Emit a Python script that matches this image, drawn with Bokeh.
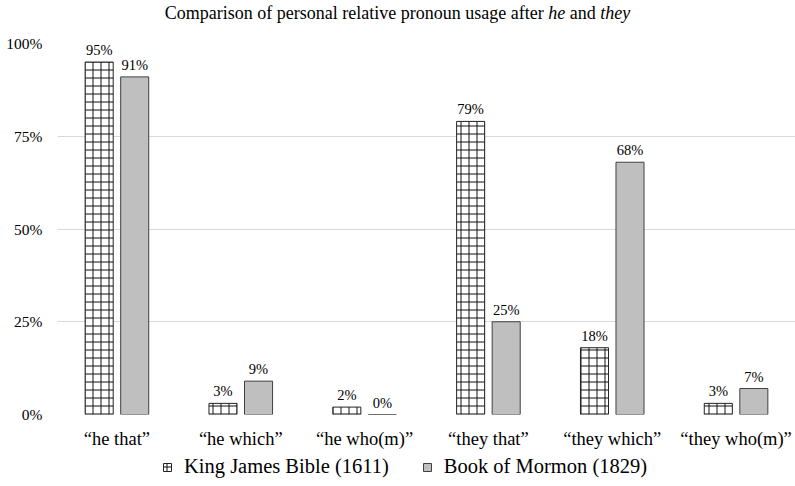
from bokeh.plotting import figure
from bokeh.layouts import column
from bokeh.models import (ColumnDataSource, FactorRange, Range1d, FixedTicker,
                          Legend, LegendItem, CustomJSTickFormatter, Div)
from bokeh.transform import dodge
from bokeh.core.properties import value
from bokeh.embed import file_html
from bokeh.resources import INLINE

# Relative pronoun constructions and the share of each (percent)
categories = ["\u201che that\u201d", "\u201che which\u201d", "\u201che who(m)\u201d",
              "\u201cthey that\u201d", "\u201cthey which\u201d", "\u201cthey who(m)\u201d"]
kjb_pct = [95, 3, 2, 79, 18, 3]
bom_pct = [91, 9, 0, 25, 68, 7]
series_names = ["King James Bible (1611)", "Book of Mormon (1829)"]
y_ticks = [0, 25, 50, 75, 100]

FONT = "Liberation Serif"
W = 795

KJB_STYLE = dict(fill_color="white", line_color="#222222", line_width=1,
                 hatch_pattern="cross", hatch_color="#111111", hatch_scale=8, hatch_weight=1)
BOM_STYLE = dict(fill_color="#bfbfbf", line_color="#404040", line_width=1)

source = ColumnDataSource(dict(
    cat=categories,
    kjb=kjb_pct,
    bom=bom_pct,
    kjb_txt=[f"{v}%" for v in kjb_pct],
    bom_txt=[f"{v}%" for v in bom_pct],
))

# Title with the two pronouns set in italics
title = Div(
    text="Comparison of personal relative pronoun usage after <i>he</i> and <i>they</i>",
    width=W, height=33, margin=0,
    styles={"font-family": FONT, "font-size": "18px", "color": "#000000",
            "text-align": "center", "width": f"{W}px", "line-height": "26px",
            "white-space": "nowrap"},
)

p = figure(
    width=W, height=418,
    x_range=FactorRange(factors=categories, range_padding=-0.02, range_padding_units="absolute"),
    y_range=Range1d(0, 100),
    output_backend="svg", toolbar_location=None,
    min_border_left=57, min_border_right=0, min_border_top=10, min_border_bottom=37,
)

BAR_W = 0.2265
OFF = 0.1435

p.vbar(x=dodge("cat", -OFF, range=p.x_range), top="kjb", width=BAR_W, source=source, **KJB_STYLE)
p.vbar(x=dodge("cat", OFF, range=p.x_range), top="bom", width=BAR_W, source=source, **BOM_STYLE)

# Value labels above each bar
for col, txt, off in (("kjb", "kjb_txt", -OFF), ("bom", "bom_txt", OFF)):
    p.text(x=dodge("cat", off, range=p.x_range), y=col, text=txt, source=source,
           text_font=value(FONT), text_font_size="14.5px", text_color="#000000",
           text_align="center", text_baseline="alphabetic", y_offset=-12)

# Axes
p.xaxis.axis_line_color = None
p.xaxis.major_tick_line_color = None
p.xaxis.minor_tick_line_color = None
p.xaxis.major_tick_out = 0
p.xaxis.major_tick_in = 0
p.xaxis.major_label_text_font = FONT
p.xaxis.major_label_text_font_size = "18.5px"
p.xaxis.major_label_text_color = "#000000"
p.xaxis.major_label_standoff = 14

p.yaxis.ticker = FixedTicker(ticks=y_ticks)
p.yaxis.formatter = CustomJSTickFormatter(code="return tick + '%';")
p.yaxis.axis_line_color = None
p.yaxis.major_tick_line_color = None
p.yaxis.minor_tick_line_color = None
p.yaxis.major_tick_out = 0
p.yaxis.major_tick_in = 0
p.yaxis.major_label_text_font = FONT
p.yaxis.major_label_text_font_size = "15.5px"
p.yaxis.major_label_text_color = "#000000"
p.yaxis.major_label_standoff = 15

p.xgrid.grid_line_color = None
p.ygrid.ticker = FixedTicker(ticks=y_ticks)
p.ygrid.grid_line_color = "#d9d9d9"
p.ygrid.grid_line_width = 1
p.outline_line_color = None

# Series key in its own strip under the chart; its swatches sit outside the strip's range
k = figure(width=W, height=35, x_range=Range1d(0, 1), y_range=Range1d(0, 1),
           output_backend="svg", toolbar_location=None,
           min_border_left=0, min_border_right=0, min_border_top=0, min_border_bottom=0)
k.axis.visible = False
k.grid.visible = False
k.outline_line_color = None
kjb_key = k.vbar(x=[5], top=[1], width=0.1, **KJB_STYLE)
bom_key = k.vbar(x=[5], top=[1], width=0.1, **BOM_STYLE)

legend = Legend(
    items=[LegendItem(label=series_names[0], renderers=[kjb_key]),
           LegendItem(label=series_names[1], renderers=[bom_key])],
    orientation="horizontal", location=(105, 8),
    label_text_font=FONT, label_text_font_size="20.5px", label_text_color="#000000",
    glyph_width=10, glyph_height=10, label_standoff=12, spacing=33,
    border_line_color=None, background_fill_alpha=0, padding=0, margin=0,
)
k.add_layout(legend)

layout = column(title, p, k, spacing=0)
open("out.html", "w").write(file_html(layout, INLINE))
